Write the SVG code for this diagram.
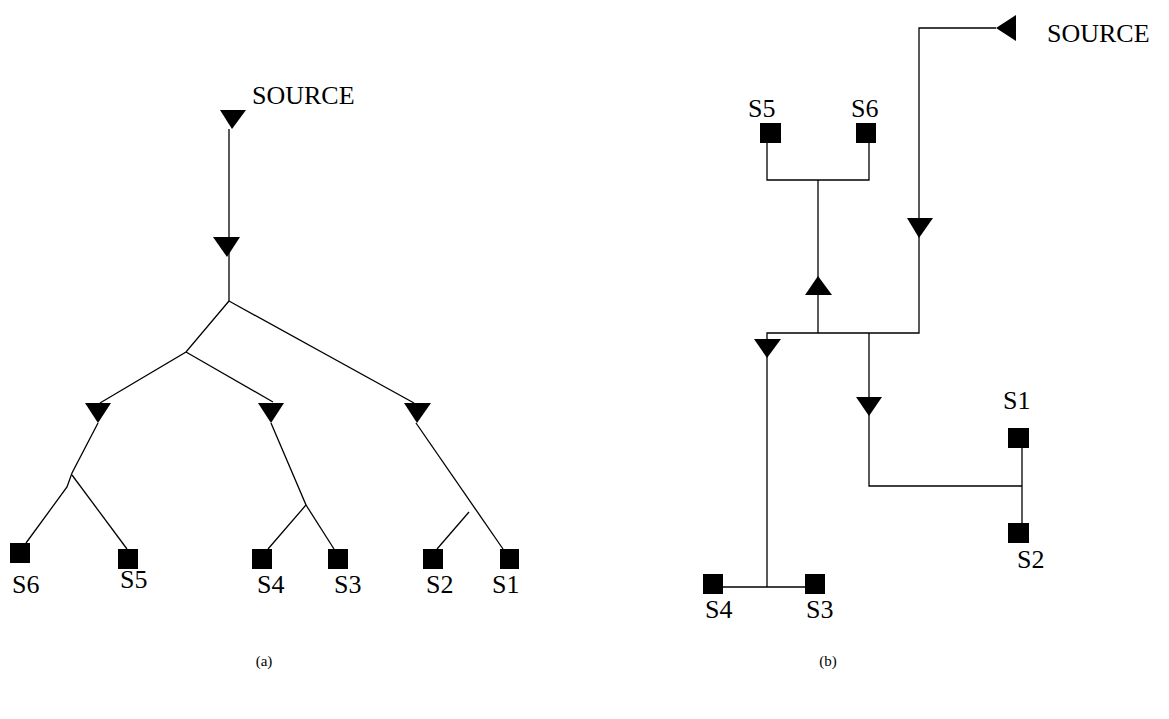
<svg xmlns="http://www.w3.org/2000/svg" width="1169" height="719" viewBox="0 0 1169 719">
<style>
.ln{fill:none;stroke:#000;stroke-width:1.3}
.tri{fill:#000}
.sq{fill:#000}
.lb{font-family:"Liberation Serif","Times New Roman",serif;font-size:26px;fill:#000}
.cap{font-family:"Liberation Serif","Times New Roman",serif;font-size:15px;fill:#000;text-anchor:middle}
</style>
<rect width="1169" height="719" fill="#fff"/>
<g id="connectors">
<!-- (a) -->
<polyline class="ln" points="229,129 229,301"/>
<polyline class="ln" points="229,301 186,352 100,403"/>
<polyline class="ln" points="186,352 273,402"/>
<polyline class="ln" points="229,301 414,403"/>
<polyline class="ln" points="98,423 72,473 67,487 26,543"/>
<polyline class="ln" points="72,475 127,549"/>
<polyline class="ln" points="271,423 306,505 268,549"/>
<polyline class="ln" points="306,505 334,549"/>
<polyline class="ln" points="416,423 503,549"/>
<polyline class="ln" points="469,512 437,549"/>
<!-- (b) -->
<polyline class="ln" points="996,28 919,28 919,333 767,333 767,587"/>
<polyline class="ln" points="723,587 805,587"/>
<polyline class="ln" points="818,333 818,180"/>
<polyline class="ln" points="767,143 767,180 869,180 869,143"/>
<polyline class="ln" points="869,333 869,486 1022,486"/>
<polyline class="ln" points="1022,448 1022,523"/>
</g>
<g id="arrows">
<polygon class="tri" points="220,110 246,110 232,129"/>
<polygon class="tri" points="213,237 240,237 227,257"/>
<polygon class="tri" points="85,403 111,403 98,423"/>
<polygon class="tri" points="258,403 284,403 271,423"/>
<polygon class="tri" points="404,403 431,403 417,423"/>
<polygon class="tri" points="1016,15 1016,41 996,28"/>
<polygon class="tri" points="907,218 933,218 919,238"/>
<polygon class="tri" points="805,295 832,295 818,276"/>
<polygon class="tri" points="754,339 781,339 767,358"/>
<polygon class="tri" points="856,397 882,397 869,416"/>
</g>
<g id="a-source"><text class="lb" x="252" y="104">SOURCE</text></g>
<g id="a-S6"><rect class="sq" x="10" y="543" width="20" height="20"/><text class="lb" x="12" y="593">S6</text></g>
<g id="a-S5"><rect class="sq" x="118" y="549" width="20" height="20"/><text class="lb" x="120" y="588">S5</text></g>
<g id="a-S4"><rect class="sq" x="252" y="549" width="20" height="20"/><text class="lb" x="257" y="593">S4</text></g>
<g id="a-S3"><rect class="sq" x="328" y="549" width="20" height="20"/><text class="lb" x="334" y="593">S3</text></g>
<g id="a-S2"><rect class="sq" x="423" y="549" width="20" height="20"/><text class="lb" x="426" y="593">S2</text></g>
<g id="a-S1"><rect class="sq" x="500" y="549" width="19" height="20"/><text class="lb" x="492" y="593">S1</text></g>
<g id="b-source"><text class="lb" x="1047" y="42">SOURCE</text></g>
<g id="b-S5"><rect class="sq" x="760" y="123" width="21" height="20"/><text class="lb" x="748" y="117">S5</text></g>
<g id="b-S6"><rect class="sq" x="856" y="123" width="20" height="20"/><text class="lb" x="851" y="117">S6</text></g>
<g id="b-S4"><rect class="sq" x="703" y="574" width="20" height="20"/><text class="lb" x="705" y="618">S4</text></g>
<g id="b-S3"><rect class="sq" x="805" y="574" width="20" height="20"/><text class="lb" x="806" y="618">S3</text></g>
<g id="b-S1"><rect class="sq" x="1008" y="428" width="21" height="20"/><text class="lb" x="1003" y="409">S1</text></g>
<g id="b-S2"><rect class="sq" x="1008" y="523" width="21" height="20"/><text class="lb" x="1017" y="568">S2</text></g>
<g id="captions">
<text class="cap" x="264" y="666">(a)</text>
<text class="cap" x="828" y="666">(b)</text>
</g>
</svg>
